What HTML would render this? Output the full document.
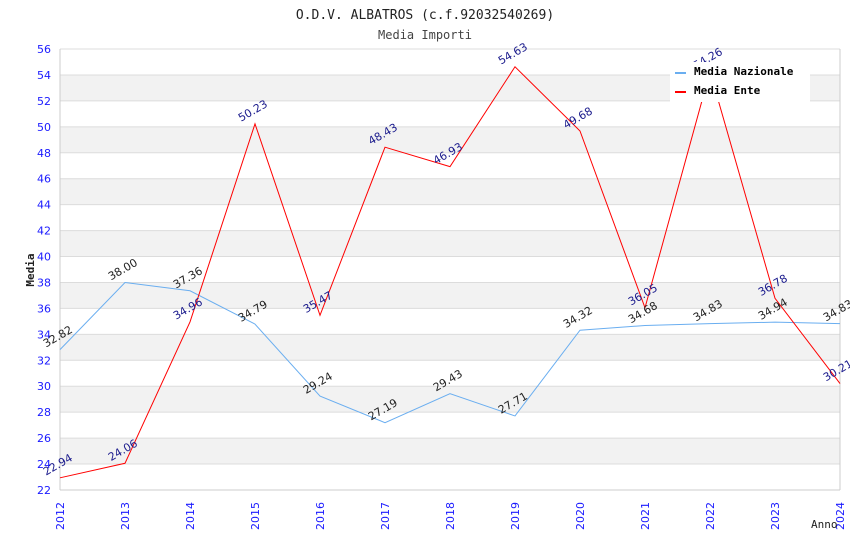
<!DOCTYPE html>
<html><head><meta charset="utf-8"><style>
body{margin:0;background:#fff;width:850px;height:550px;overflow:hidden}
text{font-family:"DejaVu Sans","Liberation Sans",sans-serif}
</style></head><body>
<svg id="c" width="850" height="550">
<text x="425" y="19" text-anchor="middle" font-family="DejaVu Sans Mono,monospace" font-size="13" fill="#222" style="font-family:'DejaVu Sans Mono',monospace">O.D.V. ALBATROS (c.f.92032540269)</text>
<text x="425" y="39" text-anchor="middle" font-size="12" fill="#444" style="font-family:'DejaVu Sans Mono',monospace">Media Importi</text>
<g id="grid"></g><g id="series"></g><g id="labels"></g>
<text transform="translate(34,270) rotate(-90)" text-anchor="middle" font-size="11" font-weight="bold" fill="#222" style="font-family:'DejaVu Sans Mono',monospace">Media</text>
<text x="811" y="528" font-size="11" fill="#222" style="font-family:'DejaVu Sans Mono',monospace">Anno</text>
<g>
<rect x="670" y="62" width="140" height="40" fill="#fff"/>
<g><rect x="675" y="72" width="11" height="2" fill="#6aaef0"/><text x="694" y="75" font-size="11" font-weight="bold" fill="#000" style="font-family:'DejaVu Sans Mono',monospace">Media Nazionale</text></g>
<g><rect x="675" y="91" width="11" height="2" fill="#f00"/><text x="694" y="94" font-size="11" font-weight="bold" fill="#000" style="font-family:'DejaVu Sans Mono',monospace">Media Ente</text></g>
</g>
</svg>
<script>
const years=["2012","2013","2014","2015","2016","2017","2018","2019","2020","2021","2022","2023","2024"];
const nazionale=[32.82,38.00,37.36,34.79,29.24,27.19,29.43,27.71,34.32,34.68,34.83,34.94,34.83];
const ente=[22.94,24.06,34.96,50.23,35.47,48.43,46.93,54.63,49.68,36.05,54.26,36.78,30.21];
const yTicks=[22,24,26,28,30,32,34,36,38,40,42,44,46,48,50,52,54,56];
const NS="http://www.w3.org/2000/svg";
const X0=60,X1=840,Y0=490,Y1=49,VMIN=22,VMAX=56;
const xs=i=>X0+i*(X1-X0)/(years.length-1);
const ys=v=>Y0-(v-VMIN)*(Y0-Y1)/(VMAX-VMIN);
function mk(t,a,p){const e=document.createElementNS(NS,t);for(const k in a)e.setAttribute(k,a[k]);p.appendChild(e);return e;}
const grid=document.getElementById('grid');
for(let i=0;i<yTicks.length-1;i++){
  if(i%2==1){const r=mk('rect',{x:X0,y:ys(yTicks[i+1]),width:X1-X0,height:ys(yTicks[i])-ys(yTicks[i+1]),fill:'#f2f2f2'},grid);
  
  }
}
yTicks.forEach(v=>{
  const l=mk('line',{x1:X0,x2:X1,y1:ys(v),y2:ys(v),stroke:'#dcdcdc'},grid);
  
  
  const t=mk('text',{x:51,y:ys(v)+4,'text-anchor':'end','font-size':11,fill:'#1a1aff'},grid);t.textContent=v;
  
  
});
mk('line',{x1:X0,x2:X0,y1:Y1,y2:Y0,stroke:'#ccc'},grid);
mk('line',{x1:X1,x2:X1,y1:Y1,y2:Y0,stroke:'#ccc'},grid);
mk('line',{x1:X0,x2:X1,y1:Y0,y2:Y0,stroke:'#ccc'},grid);
years.forEach((y,i)=>{
  const t=mk('text',{transform:`translate(${xs(i)+4},${Y0+40}) rotate(-90)`,'font-size':11,fill:'#1a1aff'},grid);t.textContent=y;
  
  
});
const S=document.getElementById('series'),L=document.getElementById('labels');
function line(vals,col,name,lcol){
  const p=mk('polyline',{points:vals.map((v,i)=>xs(i)+','+ys(v)).join(' '),fill:'none',stroke:col,'stroke-width':1},S);
  
  
  vals.forEach((v,i)=>{
    const t=mk('text',{transform:`translate(${xs(i)-14},${ys(v)-2}) rotate(-30)`,'font-size':11,fill:lcol},L);
    t.textContent=v.toFixed(2);
    
    
  });
}
line(nazionale,'#6aaef0','line-media-nazionale','#222');
line(ente,'#f00','line-media-ente','#1a1a8c');
</script>
</body></html>
